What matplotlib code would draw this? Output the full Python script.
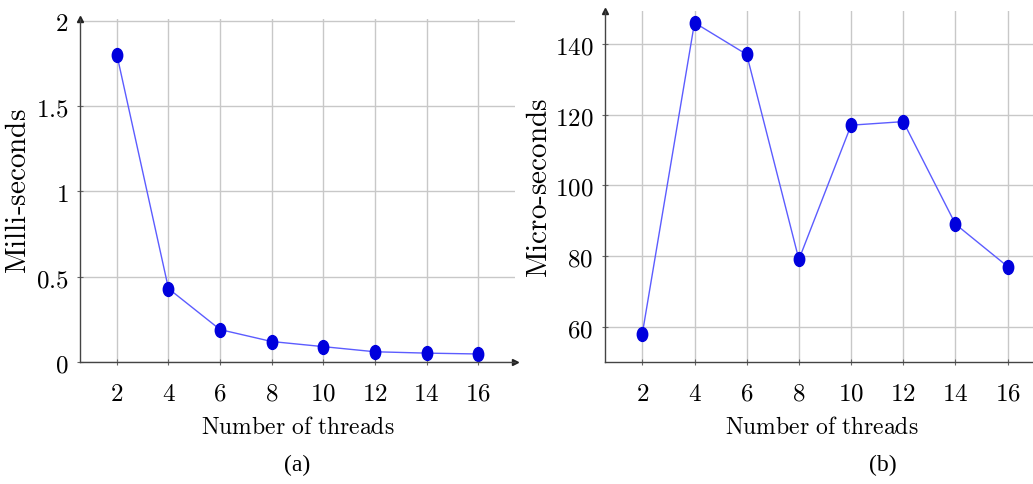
import matplotlib
matplotlib.use("Agg")
import numpy as np
from matplotlib import pyplot as plt
from matplotlib.markers import MarkerStyle
from matplotlib.transforms import Affine2D

threads = [2, 4, 6, 8, 10, 12, 14, 16]
milli = [1.80, 0.43, 0.19, 0.12, 0.09, 0.06, 0.052, 0.047]
micro = [58, 146, 137, 79, 117, 118, 89, 77]

left_yticks = [0, 0.5, 1, 1.5, 2]
left_ylabels = ["0", "0.5", "1", "1.5", "2"]
right_yticks = [60, 80, 100, 120, 140]

plt.rcParams['mathtext.fontset'] = 'cm'


def m(s):
    # latex-like roman text
    return r"$\mathrm{" + s.replace(" ", r"\ ").replace("-", r"\text{-}") + "}$"


fig = plt.figure(figsize=(10.33, 4.85), dpi=100)

W, H = 1033.0, 485.0
ax1 = fig.add_axes([80 / W, 1 - 363 / H, 435 / W, 343 / H])
ax2 = fig.add_axes([605 / W, 1 - 363 / H, 440 / W, 351 / H])

mk = MarkerStyle('o', transform=Affine2D().scale(0.75, 1.0))


def style(ax, ylabel):
    for s in ['top', 'right']:
        ax.spines[s].set_visible(False)
    for s in ['left', 'bottom']:
        ax.spines[s].set_color('#444444')
        ax.spines[s].set_linewidth(1.0)
    ax.grid(True, color='#c8c8c8', linewidth=1.0)
    ax.set_axisbelow(True)
    ax.tick_params(direction='inout', length=5, width=0.8, color='#666666',
                   labelsize=18)
    ax.tick_params(axis='x', pad=11)
    ax.tick_params(axis='y', pad=6)
    ax.set_xticks(threads)
    ax.set_xticklabels([m(str(t)) for t in threads])
    ax.set_xlim(0.57, 17.43)
    ax.set_xlabel(m("Number of threads"), fontsize=17)
    ax.set_ylabel(m("Milli-seconds") if ylabel == "milli" else m("Micro-seconds"),
                  fontsize=21)
    # axis arrows
    ax.plot(1, 0, marker='>', color='#222222', markersize=4,
            transform=ax.transAxes, clip_on=False)
    ax.plot(0, 1, marker='^', color='#222222', markersize=4,
            transform=ax.transAxes, clip_on=False)


ax1.plot(threads, milli, color='#5c5cff', linewidth=1.0, marker=mk,
         markersize=10, markerfacecolor='#0000dd', markeredgecolor='#0000dd')
style(ax1, "milli")
ax1.set_ylim(0, 2.01)
ax1.set_yticks(left_yticks)
ax1.set_yticklabels([m(s) for s in left_ylabels])
ax1.yaxis.set_label_coords(-0.11, 0.5)
ax1.xaxis.set_label_coords(0.5, -0.152)

ax2.plot(threads, micro, color='#5c5cff', linewidth=1.0, marker=mk,
         markersize=10, markerfacecolor='#0000dd', markeredgecolor='#0000dd')
style(ax2, "micro")
ax2.set_ylim(50, 149.3)
ax2.set_yticks(right_yticks)
ax2.set_yticklabels([m(str(v)) for v in right_yticks])
ax2.yaxis.set_label_coords(-0.118, 0.5)
ax2.xaxis.set_label_coords(0.493, -0.149)

fig.text(297 / W, 1 - 465 / H, "(a)", ha='center', va='center',
         fontsize=17, family='Liberation Serif')
fig.text(883 / W, 1 - 465 / H, "(b)", ha='center', va='center',
         fontsize=17, family='Liberation Serif')

plt.savefig('out.png', dpi=100)
